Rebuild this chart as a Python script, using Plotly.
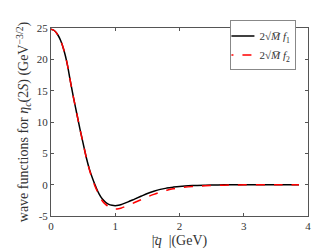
import plotly.graph_objects as go

q = [0.0, 0.05, 0.1, 0.15, 0.2, 0.25, 0.3, 0.35, 0.4, 0.45, 0.5, 0.55, 0.6, 0.65, 0.7,
     0.75, 0.8, 0.85, 0.9, 0.95, 1.0, 1.05, 1.1, 1.2, 1.3, 1.4, 1.5, 1.6, 1.7, 1.8, 1.9,
     2.0, 2.2, 2.4, 2.6, 2.8, 3.0, 3.5, 3.86]
f1 = [24.8, 24.6, 24.0, 23.0, 21.5, 19.4, 16.6, 13.9, 11.4, 8.9, 6.6, 4.3, 2.4, 0.9, -0.4,
      -1.5, -2.3, -2.8, -3.15, -3.3, -3.35, -3.3, -3.15, -2.75, -2.3, -1.85, -1.4, -1.05, -0.75, -0.55, -0.4,
      -0.28, -0.15, -0.08, -0.04, -0.02, -0.01, 0.0, 0.0]
f2 = [24.8, 24.6, 24.0, 23.0, 21.5, 19.4, 16.6, 13.9, 11.4, 8.9, 6.6, 4.3, 2.3, 0.7, -0.6,
      -1.7, -2.6, -3.15, -3.55, -3.8, -3.9, -3.85, -3.7, -3.3, -2.85, -2.4, -1.95, -1.55, -1.2, -0.9, -0.65,
      -0.5, -0.3, -0.17, -0.1, -0.05, -0.03, -0.01, 0.0]

x_ticks = [0, 1, 2, 3, 4]
y_ticks = [-5, 0, 5, 10, 15, 20, 25]
y_tick_text = ["-5", "0", "5", "10", "15", "20", "25"]

FONT = "Liberation Serif"
TXT = "#333333"

fig = go.Figure()
fig.add_trace(go.Scatter(x=q, y=f1, mode="lines", line=dict(color="black", width=1.5, shape="spline"),
                         name="2√<i>M̅</i> <i>f</i><sub>1</sub>"))
fig.add_trace(go.Scatter(x=q, y=f2, mode="lines", line=dict(color="red", width=1.5, dash="dash", shape="spline"),
                         name="2√<i>M̅</i> <i>f</i><sub>2</sub>"))

axis_common = dict(showline=True, linecolor="#555555", linewidth=1, mirror="ticks", ticks="inside",
                   ticklen=3, tickcolor="#555555", showgrid=False, zeroline=False,
                   tickfont=dict(family=FONT, size=11, color=TXT))

fig.update_layout(
    width=332, height=249,
    margin=dict(l=43, r=32, t=19, b=35),
    paper_bgcolor="white", plot_bgcolor="white",
    font=dict(family=FONT, size=12, color=TXT),
    xaxis=dict(range=[0, 4], tickvals=x_ticks,
               title=dict(text="|<i>q</i>  |(GeV)", standoff=3, font=dict(family=FONT, size=14, color=TXT)),
               **axis_common),
    yaxis=dict(range=[-5, 25], tickvals=y_ticks, ticktext=y_tick_text,
               title=dict(text="wave functions for <i>η</i><sub><i>c</i></sub>(2<i>S</i>) (GeV<sup>−3/2</sup>)",
                          standoff=4, font=dict(family=FONT, size=14, color=TXT)),
               **axis_common),
    legend=dict(x=0.955, y=1.04, xanchor="right", yanchor="top", bordercolor="#888888", borderwidth=1,
                bgcolor="white", font=dict(family=FONT, size=11, color=TXT), itemwidth=30, tracegroupgap=0,
                indentation=-12),
    showlegend=True,
)

# vector arrow over q in the x-axis title
fig.add_annotation(text="→", xref="paper", yref="paper", x=0.405, y=-0.108, showarrow=False,
                   font=dict(family=FONT, size=9, color=TXT), xanchor="center", yanchor="middle")

fig.write_html("out.html")
